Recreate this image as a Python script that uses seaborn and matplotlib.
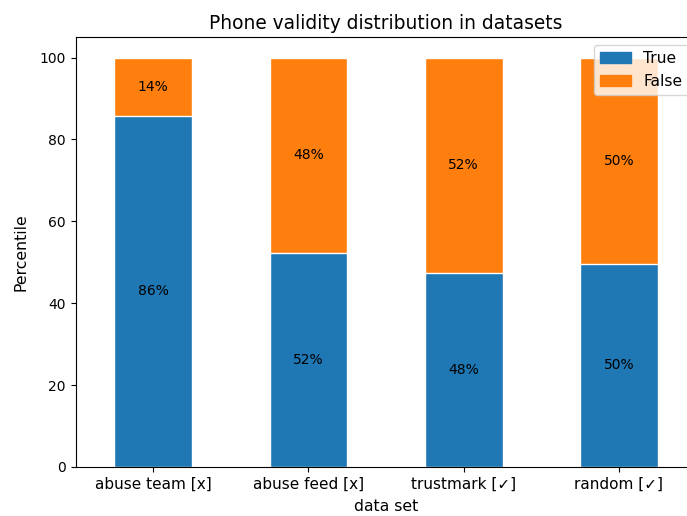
import matplotlib
matplotlib.use("Agg")
import matplotlib.pyplot as plt
import seaborn as sns
import pandas as pd

# values
datasets = ["abuse team [x]", "abuse feed [x]", "trustmark [✓]", "random [✓]"]
true_pct = [85.8, 52.2, 47.5, 49.7]
false_pct = [100 - v for v in true_pct]

df = pd.DataFrame({"data set": datasets, "True": true_pct, "False": false_pct})
df["Total"] = df["True"] + df["False"]

fig, ax = plt.subplots(figsize=(6.87, 5.16), dpi=100)
# the reference image is cropped on the right, so the axes run past the edge
fig.subplots_adjust(left=0.110, right=1.014, top=0.928, bottom=0.095)

# stacked look: full bar in orange, True part drawn over it in blue
sns.barplot(data=df, x="data set", y="Total", color="#ff7f0e", saturation=1,
            width=0.5, edgecolor="white", linewidth=1, ax=ax)
sns.barplot(data=df, x="data set", y="True", color="#1f77b4", saturation=1,
            width=0.5, edgecolor="white", linewidth=1, ax=ax)

for i, (t, f) in enumerate(zip(df["True"], df["False"])):
    ax.text(i, t / 2, f"{round(t)}%", ha="center", va="center", fontsize=10)
    ax.text(i, t + f / 2, f"{round(f)}%", ha="center", va="center", fontsize=10)

handles = [plt.Rectangle((0, 0), 1, 1, color="#1f77b4"),
           plt.Rectangle((0, 0), 1, 1, color="#ff7f0e")]
ax.legend(handles, ["True", "False"], loc="upper right", fontsize=11.2)

ax.set_title("Phone validity distribution in datasets", fontsize=13.4)
ax.set_xlabel("data set", fontsize=11.3, labelpad=5)
ax.set_ylabel("Percentile", fontsize=11.3, labelpad=8)
ax.tick_params(axis="x", labelsize=11)
ax.set_ylim(0, 105)
ax.set_xlim(-0.5, 3.5)

plt.savefig("out.png", dpi=100)
plt.close()
